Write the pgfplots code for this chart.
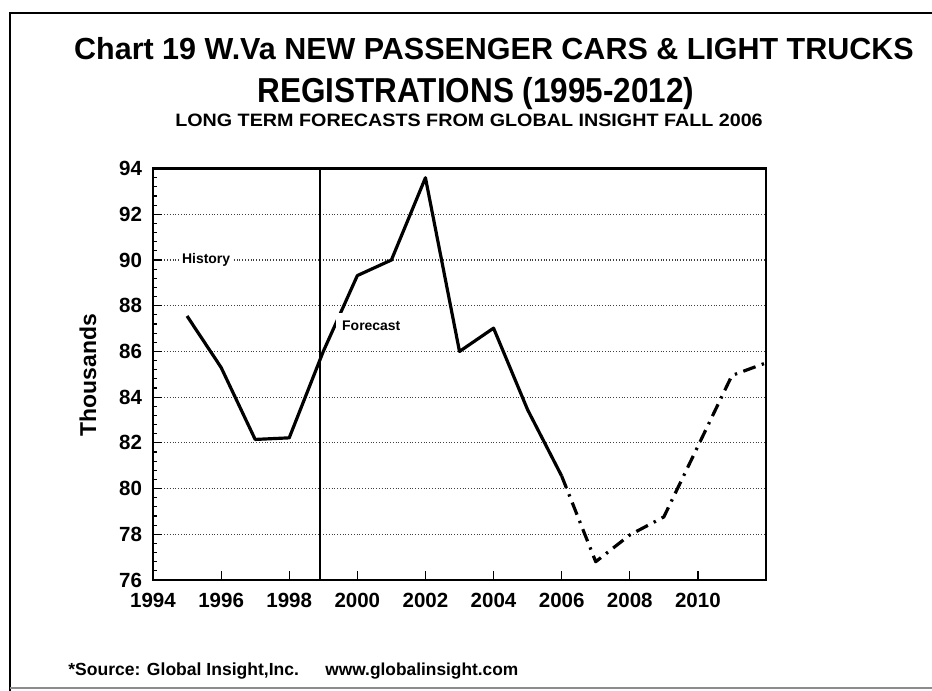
\documentclass[border=0pt]{standalone}
\usepackage{pgfplots}
\pgfplotsset{compat=1.18}
\usepackage{fontspec}
\usepackage{graphicx}
\setmainfont{Liberation Sans}
\begin{document}
\begin{tikzpicture}
\path[use as bounding box] (0,0) rectangle (466bp,-345.5bp);
% frame
\draw[line width=1.1pt] (5bp,-345.5bp) -- (5bp,-6.5bp) -- (466bp,-6.5bp);
\draw[line width=0.6pt, black!45] (5bp,-344bp) -- (466bp,-344bp);
% titles
\node[anchor=base, inner sep=0pt, font=\bfseries\fontsize{15.3}{18}\selectfont] at (247bp,-29.5bp) {Chart 19 W.Va NEW PASSENGER CARS \& LIGHT TRUCKS};
\node[anchor=base, inner sep=0pt, font=\bfseries\fontsize{15.8}{18}\selectfont] at (238bp,-51bp) {\scalebox{1}[1.1]{REGISTRATIONS (1995-2012)}};
\node[anchor=base, inner sep=0pt, font=\bfseries\fontsize{9}{11}\selectfont] at (234.5bp,-63bp) {\scalebox{1.1}[1]{LONG TERM FORECASTS FROM GLOBAL INSIGHT FALL 2006}};
% source
\node[anchor=base west, inner sep=0pt, font=\bfseries\fontsize{8.8}{10}\selectfont] at (34bp,-337.5bp) {*Source: Global Insight,Inc.};
\node[anchor=base west, inner sep=0pt, font=\bfseries\fontsize{8.7}{10}\selectfont] at (162.5bp,-337.5bp) {www.globalinsight.com};
\begin{axis}[
  at={(76.5bp,-290bp)}, anchor=south west,
  scale only axis, width=306.5bp, height=205.7bp,
  xmin=1994, xmax=2012, ymin=76, ymax=94,
  xtick={1994,1996,...,2010}, ytick={76,78,...,94},
  minor x tick num=4, minor y tick num=4,
  tick align=inside, tick pos=left,
  major tick length=4.5bp, minor tick length=2bp,
  every tick/.style={black, line width=0.6pt},
  ymajorgrids, grid style={densely dotted, black!75, line width=0.6pt},
  axis line style={line width=1.2pt},
  /pgf/number format/assume math mode=true,
  /pgf/number format/1000 sep={},
  tick label style={font=\bfseries\fontsize{10.3}{12}\selectfont},
  xticklabel style={yshift=-3bp},
  yticklabel style={xshift=-2bp},
  ylabel={Thousands},
  ylabel style={at={(axis description cs:-0.106,0.498)}, anchor=center, font=\bfseries\fontsize{11.5}{13}\selectfont},
  clip=false,
]
\addplot[black, line width=1pt, forget plot] coordinates {(1998.9,76) (1998.9,94)};
\addplot[black, line width=1.6pt, line join=round] coordinates {
 (1995,87.55) (1996,85.30) (1997,82.15) (1998,82.22) (1999,86.00) (2000,89.32)
 (2001,90.00) (2002,93.60) (2003,86.00) (2004,87.02) (2005,83.45) (2006,80.55)};
\addplot[black, line width=1.6pt, line join=round,
  dash pattern=on 6.5bp off 3.3bp on 1.2bp off 3.3bp] coordinates {
 (2006,80.55) (2007,76.80) (2008,77.97) (2009,78.76) (2010,81.85) (2011,84.95) (2012,85.50)};
\node[fill=white, inner xsep=1.5bp, inner ysep=1.5bp, font=\bfseries\fontsize{7}{8}\selectfont] at (axis cs:1995.56,90) {History};
\node[fill=white, inner xsep=3bp, inner ysep=4bp, font=\bfseries\fontsize{7}{8}\selectfont] at (axis cs:2000.41,87.12) {Forecast};
\end{axis}
\end{tikzpicture}
\end{document}
